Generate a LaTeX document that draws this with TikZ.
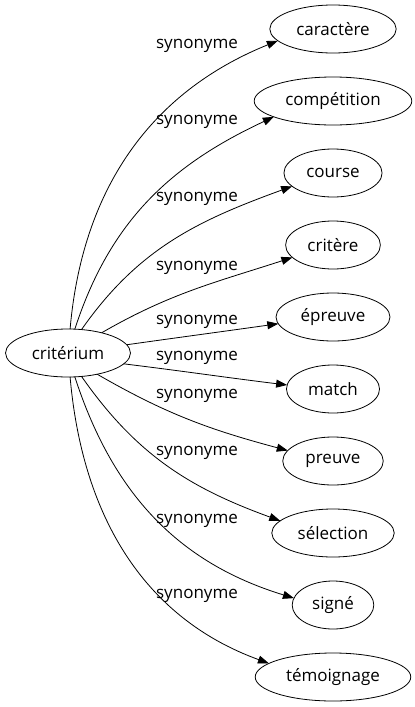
\documentclass[tikz,border=0pt]{standalone}
\usepackage{fontspec}
\setmainfont{Open Sans}
\usepackage{tikz}
\usetikzlibrary{positioning, shapes.geometric, arrows.meta}

\tikzset{
  syn/.style={ellipse, draw, line width=0.8pt, minimum height=48pt, inner xsep=8pt, inner ysep=2pt,
    outer sep=0pt, font=\fontsize{17pt}{20pt}\selectfont},
  lbl/.style={inner sep=0pt, font=\fontsize{17pt}{20pt}\selectfont},
  arr/.style={line width=0.8pt, -{Triangle[length=11pt,width=8pt]}}
}

\begin{document}
\begin{tikzpicture}[x=1pt, y=-1pt]
        \useasboundingbox (0,0) rectangle (415,707);

        \node[syn](crit) at (68,353){critérium};
        \node[syn](car) at (333,29){caractère};
        \node[syn](comp)[below = 24pt of car]{compétition};
        \node[syn](course)[below = 24pt of comp]{course};
        \node[syn](critere)[below = 24pt of course]{critère};
        \node[syn](epreuve)[below = 24pt of critere]{épreuve};
        \node[syn](match)[below = 24pt of epreuve]{match};
        \node[syn](preuve)[below = 24pt of match]{preuve};
        \node[syn](select)[below = 24pt of preuve]{sélection};
        \node[syn](signe)[below = 24pt of select]{signé};
        \node[syn](temoin)[below = 24pt of signe]{témoignage};

        % edge labels
        \node[lbl](l1) at (197,46){synonyme};
        \node[lbl](l2) at (197,122){synonyme};
        \node[lbl](l3) at (197,199){synonyme};
        \node[lbl](l4) at (197,268){synonyme};
        \node[lbl](l5) at (197,322){synonyme};
        \node[lbl](l6) at (197,358){synonyme};
        \node[lbl](l7) at (197,396){synonyme};
        \node[lbl](l8) at (197,453){synonyme};
        \node[lbl](l9) at (197,521){synonyme};
        \node[lbl](l10) at (197,596){synonyme};

        \path[arr]
        (crit.85) edge[out=85, in=202] (car.192)
        (crit.74) edge[out=72, in=205] (comp.195)
        (crit.60) edge[out=55, in=200] (course.198)
        (crit.31) edge[out=30, in=198] (critere.197)
        (crit.8) edge[out=8, in=188] (epreuve.187)
        (crit.-11) edge[out=-7, in=173] (match.175)
        (crit.-36) edge[out=-30, in=165] (preuve.167)
        (crit.-60) edge[out=-55, in=160] (select.167)
        (crit.-74) edge[out=-72, in=163] (signe.170)
        (crit.-85) edge[out=-85, in=160] (temoin.168);
    \end{tikzpicture}
\end{document}
